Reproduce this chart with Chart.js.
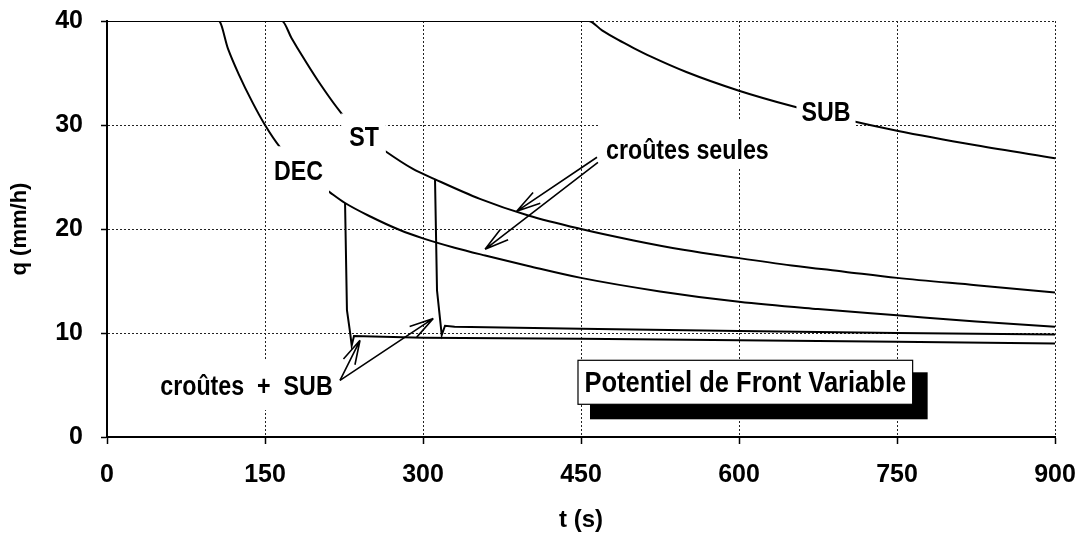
<!DOCTYPE html>
<html>
<head>
<meta charset="utf-8">
<script src="https://cdn.jsdelivr.net/npm/chart.js@4.4.1/dist/chart.umd.min.js"></script>
<style>
  html, body { margin: 0; padding: 0; background: #fff; }
</style>
</head>
<body>
<canvas id="qChart" width="1084" height="536"></canvas>
<script>
// courbes q(t) : sol decroute (DEC), sol structure (ST), sous-sol (SUB)
const tDEC = [0, 106, 115, 125, 138, 150, 164, 180, 195, 212, 226, 250, 278, 300, 330, 359, 400, 450, 525, 600, 675, 750, 825, 900];
const qDEC = [40, 40, 37.3, 34.9, 32.2, 30.0, 27.9, 26.2, 24.8, 23.5, 22.5, 21.2, 19.9, 19.1, 18.2, 17.45, 16.45, 15.3, 14.0, 13.0, 12.3, 11.7, 11.1, 10.6];

const tST = [0, 166, 175, 185, 200, 222, 240, 264, 290, 311, 354, 400, 450, 500, 547, 600, 650, 700, 750, 825, 900];
const qST = [40, 40, 38.4, 36.7, 34.3, 31.2, 29.3, 27.5, 25.8, 24.8, 22.9, 21.3, 20.0, 18.9, 18.0, 17.2, 16.5, 15.9, 15.3, 14.6, 13.9];

const tSUB = [0, 457, 470, 485, 500, 516, 550, 600, 651, 700, 750, 825, 900];
const qSUB = [40, 40, 39.1, 38.2, 37.4, 36.6, 35.1, 33.3, 31.8, 30.55, 29.45, 28.05, 26.8];

// croutes + SUB : chute brutale puis palier
const tCrDEC = [226, 227.8, 230.7, 232.3, 234.5, 300, 450, 600, 750, 900];
const qCrDEC = [22.5, 12.2, 10.1, 8.8, 9.7, 9.55, 9.45, 9.3, 9.15, 9.0];

const tCrST = [311.4, 313.3, 317.8, 320.9, 330, 450, 600, 750, 900];
const qCrST = [24.8, 14.1, 9.8, 10.7, 10.6, 10.4, 10.2, 10.0, 9.85];

const xTicks = [0, 150, 300, 450, 600, 750, 900];
const yTicks = [0, 10, 20, 30, 40];

// etiquettes (centre en t, q) ; pad = marge blanche gauche, haut, droite, bas
const labels = [
  { text: 'DEC', t: 181.8, q: 25.55, pad: [5, 14, 6, 12] },
  { text: 'ST', t: 244, q: 28.8, pad: [8, 13, 7, 5] },
  { text: 'SUB', t: 682.6, q: 31.2, pad: [5, 2, 5, 5] },
  { text: 'croûtes seules', t: 551, q: 27.6, pad: [7, 20, 30, 8] },
  { text: 'croûtes  +  SUB', t: 132.4, q: 4.9, pad: [4, 15, 2, 13] }
];

// fleches [t0, q0, t1, q1]
const arrows = [
  [465.2, 26.9, 388.9, 21.7],
  [466.1, 26.4, 358.9, 18.05],
  [221.2, 5.45, 240.2, 9.3],
  [221.2, 5.45, 309.8, 11.4]
];

const boxTitle = { text: 'Potentiel de Front Variable', t: 606, q: 5.26 };

const toXY = (ts, qs) => ts.map((t, i) => ({ x: t, y: qs[i] }));

const FAMILY = '"Liberation Sans", Arial, sans-serif';
const NARROW = 0.83;

// texte gras resserre horizontalement (style Helvetica Narrow)
function narrowText(ctx, text, cx, cy, size, sx) {
  ctx.save();
  ctx.font = 'bold ' + size + 'px ' + FAMILY;
  ctx.translate(cx, cy);
  ctx.scale(sx, 1);
  ctx.textAlign = 'center';
  ctx.textBaseline = 'middle';
  ctx.fillText(text, 0, 1);
  ctx.restore();
}

function narrowWidth(ctx, text, size, sx) {
  ctx.save();
  ctx.font = 'bold ' + size + 'px ' + FAMILY;
  const w = ctx.measureText(text).width * sx;
  ctx.restore();
  return w;
}

const annotations = {
  id: 'annotations',
  afterDatasetsDraw(chart) {
    const ctx = chart.ctx;
    const xs = chart.scales.x, ys = chart.scales.y;
    ctx.save();

    labels.forEach(l => {
      const cx = xs.getPixelForValue(l.t);
      const cy = ys.getPixelForValue(l.q);
      const w = narrowWidth(ctx, l.text, 28, NARROW);
      const h = 22;
      ctx.fillStyle = '#fff';
      ctx.fillRect(cx - w / 2 - l.pad[0], cy - h / 2 - l.pad[1], w + l.pad[0] + l.pad[2], h + l.pad[1] + l.pad[3]);
      ctx.fillStyle = '#000';
      narrowText(ctx, l.text, cx, cy, 28, NARROW);
    });

    // fleches a pointe ouverte
    ctx.strokeStyle = '#000';
    ctx.lineWidth = 1.6;
    arrows.forEach(a => {
      const x0 = xs.getPixelForValue(a[0]), y0 = ys.getPixelForValue(a[1]);
      const x1 = xs.getPixelForValue(a[2]), y1 = ys.getPixelForValue(a[3]);
      const ang = Math.atan2(y1 - y0, x1 - x0);
      ctx.beginPath();
      ctx.moveTo(x0, y0);
      ctx.lineTo(x1, y1);
      [0.26, -0.26].forEach(d => {
        ctx.moveTo(x1, y1);
        ctx.lineTo(x1 - 25 * Math.cos(ang + d), y1 - 25 * Math.sin(ang + d));
      });
      ctx.stroke();
    });

    // encadre avec ombre portee
    const bx = xs.getPixelForValue(boxTitle.t);
    const by = ys.getPixelForValue(boxTitle.q);
    const bw = narrowWidth(ctx, boxTitle.text, 30, 0.85) + 13;
    const bh = 44;
    ctx.fillStyle = '#000';
    ctx.fillRect(bx - bw / 2 + 12, by - bh / 2 + 12, bw + 3, bh + 3);
    ctx.fillStyle = '#fff';
    ctx.fillRect(bx - bw / 2, by - bh / 2, bw, bh);
    ctx.lineWidth = 1.2;
    ctx.strokeRect(bx - bw / 2, by - bh / 2, bw, bh);
    ctx.fillStyle = '#000';
    narrowText(ctx, boxTitle.text, bx, by, 30, 0.85);
    ctx.restore();
  }
};

const curve = (data, smooth) => ({
  data: data,
  borderColor: '#000',
  borderWidth: 2,
  pointRadius: 0,
  fill: false,
  tension: 0,
  cubicInterpolationMode: smooth ? 'monotone' : 'default'
});

const tickFont = { family: FAMILY, size: 25, weight: 'bold' };

new Chart(document.getElementById('qChart').getContext('2d'), {
  type: 'line',
  data: {
    datasets: [
      curve(toXY(tDEC, qDEC), true),
      curve(toXY(tST, qST), true),
      curve(toXY(tSUB, qSUB), true),
      curve(toXY(tCrDEC, qCrDEC), false),
      curve(toXY(tCrST, qCrST), false)
    ]
  },
  options: {
    responsive: false,
    animation: false,
    devicePixelRatio: 1,
    layout: { padding: { top: 21, right: 29, left: 0, bottom: 0 } },
    plugins: { legend: { display: false }, tooltip: { enabled: false } },
    scales: {
      x: {
        type: 'linear',
        min: 0,
        max: 900,
        afterBuildTicks: s => { s.ticks = xTicks.map(v => ({ value: v })); },
        afterFit: s => { s.height = 99; s.paddingLeft = 0; s.paddingRight = 0; },
        ticks: { font: tickFont, color: '#000', padding: 16, maxRotation: 0 },
        grid: { color: '#222', lineWidth: 1, tickLength: 7, tickColor: '#000', tickWidth: 1.5 },
        border: { display: true, color: '#000', width: 2, dash: [2, 2] },
        title: { display: true, text: 't (s)', font: { family: FAMILY, size: 24, weight: 'bold' }, color: '#000', padding: { top: 0, bottom: 1 } }
      },
      y: {
        min: 0,
        max: 40,
        afterBuildTicks: s => { s.ticks = yTicks.map(v => ({ value: v })); },
        afterFit: s => { s.width = 107; s.paddingTop = 0; s.paddingBottom = 0; },
        ticks: { font: tickFont, color: '#000', padding: 18 },
        grid: { color: '#222', lineWidth: 1, tickLength: 6, tickColor: '#000', tickWidth: 1.5 },
        border: { display: true, color: '#000', width: 2, dash: [2, 2] },
        title: { display: true, text: 'q (mm/h)', font: { family: FAMILY, size: 22, weight: 'bold' }, color: '#000', padding: { top: 7, bottom: 0 } }
      }
    }
  },
  plugins: [annotations]
});
</script>
</body>
</html>
